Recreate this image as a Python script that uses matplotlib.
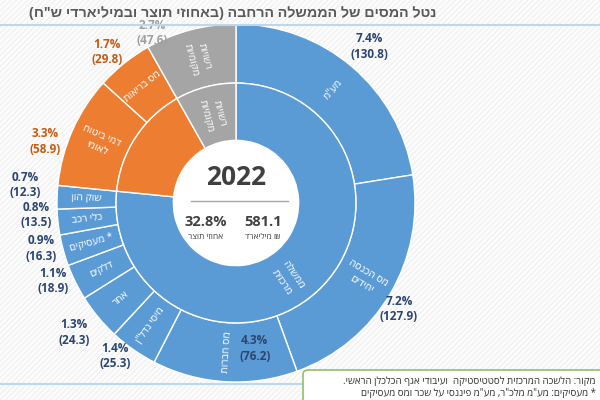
import numpy as np
import matplotlib.pyplot as plt
from matplotlib.patches import Circle, Rectangle, FancyBboxPatch
from matplotlib.lines import Line2D

plt.rcParams['font.family'] = ['Open Sans', 'Liberation Sans', 'DejaVu Sans']
plt.rcParams['hatch.linewidth'] = 0.6

# outer ring (clockwise from 12 o'clock)
outer_labels = ['מע"מ', 'מס הכנסה\nיחידים', 'מס חברות', 'מיסי נדל"ן', 'אחר', 'דלקים',
                '* מעסיקים', 'כלי רכב', 'שוק הון', 'דמי ביטוח\nלאומי', 'מס בריאות',
                'רשויות\nמקומיות']
outer_bn = [130.8, 127.9, 76.2, 25.3, 24.3, 18.9, 16.3, 13.5, 12.3, 58.9, 29.8, 47.6]
outer_pct = [7.4, 7.2, 4.3, 1.4, 1.3, 1.1, 0.9, 0.8, 0.7, 3.3, 1.7, 2.7]
outer_group = [0, 0, 0, 0, 0, 0, 0, 0, 0, 1, 1, 2]

# inner ring
inner_labels = ['ממשלה\nמרכזית', '', 'רשויות\nמקומיות']

year = '2022'
total_pct = '32.8%'
total_bn = '581.1'

group_colors = ['#5B9BD5', '#ED7D31', '#A5A5A5']
value_colors = ['#2B4570', '#C55A11', '#A0A0A0']

# where the value labels sit: (angle shift in deg, radius)
label_pos = [(0, 1.15), (2.5, 1.085), (-11, 0.82), (3.3, 1.09), (1, 1.16), (3.1, 1.11),
             (2.3, 1.12), (2.7, 1.12), (3, 1.18), (-6, 1.12), (-1.8, 1.11), (-11.5, 1.06)]


def heb(s):
    # matplotlib has no bidi, so put hebrew lines in visual order
    out = []
    for line in s.split('\n'):
        r = line[::-1]
        r = r.replace('(', '\0').replace(')', '(').replace('\0', ')')
        out.append(r)
    return '\n'.join(out)


def radial_rot(theta):
    rot = (90 - theta) % 360
    if 90 < rot < 270:
        rot -= 180
    if rot >= 270:
        rot -= 360
    return rot


inner_vals = [sum(v for v, g in zip(outer_bn, outer_group) if g == k) for k in range(3)]
outer_colors = [group_colors[g] for g in outer_group]

R = 179.0
cx, cy = 236.0, 203.0
fig = plt.figure(figsize=(6, 4), dpi=100)
fig.patch.set_facecolor('white')
fig.patches.append(Rectangle((0, 0), 1, 1, transform=fig.transFigure, facecolor='#FCFCFC',
                             edgecolor='#ECECEC', hatch='//////', lw=0, zorder=-10))

ax = fig.add_axes([0, 0, 1, 1])
ax.set_facecolor('none')

ax.add_patch(Circle((0, 0), 0.35, facecolor='white', edgecolor='none', zorder=0))

ax.pie(outer_bn, radius=1.0, colors=outer_colors, startangle=90, counterclock=False,
       wedgeprops=dict(width=0.33, edgecolor='white', linewidth=1.0))
ax.pie(inner_vals, radius=0.67, colors=group_colors, startangle=90, counterclock=False,
       wedgeprops=dict(width=0.32, edgecolor='white', linewidth=1.0))
ax.set_xlim(-cx / R, (600 - cx) / R)
ax.set_ylim(-(400 - cy) / R, cy / R)
ax.set_aspect('auto')
ax.axis('off')

# labels on outer ring + value labels
tot = sum(outer_bn)
cum = np.cumsum([0] + outer_bn)
for i, lab in enumerate(outer_labels):
    mid = (cum[i] + outer_bn[i] / 2) / tot * 360
    t = np.radians(mid)
    rot = radial_rot(mid)
    if i == 10:
        rot = rot + 90
    ax.text(0.835 * np.sin(t), 0.835 * np.cos(t), heb(lab), rotation=rot, rotation_mode='anchor',
            ha='center', va='center', color='white', fontsize=7.5, linespacing=1.3)
    dth, rr = label_pos[i]
    tl = np.radians(mid + dth)
    ax.text(rr * np.sin(tl), rr * np.cos(tl), f'{outer_pct[i]}%\n({outer_bn[i]})',
            ha='center', va='center', color=value_colors[outer_group[i]], fontsize=8.5,
            fontweight='bold', linespacing=1.25)

tot_in = sum(inner_vals)
cum_in = np.cumsum([0] + inner_vals)
for i, lab in enumerate(inner_labels):
    if not lab:
        continue
    mid = (cum_in[i] + inner_vals[i] / 2) / tot_in * 360
    if i == 0:
        mid += 8
    t = np.radians(mid)
    ax.text(0.51 * np.sin(t), 0.51 * np.cos(t), heb(lab), rotation=radial_rot(mid),
            rotation_mode='anchor', ha='center', va='center', color='white', fontsize=7.5,
            linespacing=1.3)

# centre
ax.text(0, 0.145, year, ha='center', va='center', fontsize=19, fontweight='bold', color='#404040')
ax.plot([-0.25, 0.29], [0.011, 0.011], color='#A6A6A6', lw=1)
ax.text(-0.17, -0.105, total_pct, ha='center', va='center', fontsize=10.5, fontweight='bold', color='#404040')
ax.text(0.15, -0.105, total_bn, ha='center', va='center', fontsize=10.5, fontweight='bold', color='#404040')
ax.text(-0.17, -0.19, heb('אחוזי תוצר'), ha='center', va='center', fontsize=6, color='#404040')
ax.text(0.15, -0.19, heb('₪ מיליארד'), ha='center', va='center', fontsize=6, color='#404040')

# title and frame lines
fig.text(0.728, 0.968, heb('נטל המסים של הממשלה הרחבה (באחוזי תוצר ובמיליארדי ש"ח)'),
         ha='right', va='center', fontsize=10.3, fontweight='bold', color='#595959')
fig.add_artist(Line2D([0, 1], [1 - 25 / 400, 1 - 25 / 400], color='#BDD7EE', lw=1.5))
fig.add_artist(Line2D([0, 0.52], [1 - 384 / 400, 1 - 384 / 400], color='#BDD7EE', lw=1.5))

# source box
fig.patches.append(FancyBboxPatch((303 / 600, -0.05), 0.55, 0.125, transform=fig.transFigure,
                                  boxstyle='round,pad=0,rounding_size=0.01', facecolor='white',
                                  edgecolor='#8FC06A', lw=1.2, zorder=5))
fig.text(0.993, 1 - 381 / 400, heb('מקור: הלשכה המרכזית לסטטיסטיקה  ועיבודי אגף הכלכלן הראשי.'),
         ha='right', va='center', fontsize=7, color='#333333', zorder=6)
fig.text(0.993, 1 - 393 / 400, heb('* מעסיקים: מע"מ מלכ"ר, מע"מ פיננסי על שכר ומס מעסיקים'),
         ha='right', va='center', fontsize=7, color='#333333', zorder=6)

fig.savefig('out.png', dpi=100)
